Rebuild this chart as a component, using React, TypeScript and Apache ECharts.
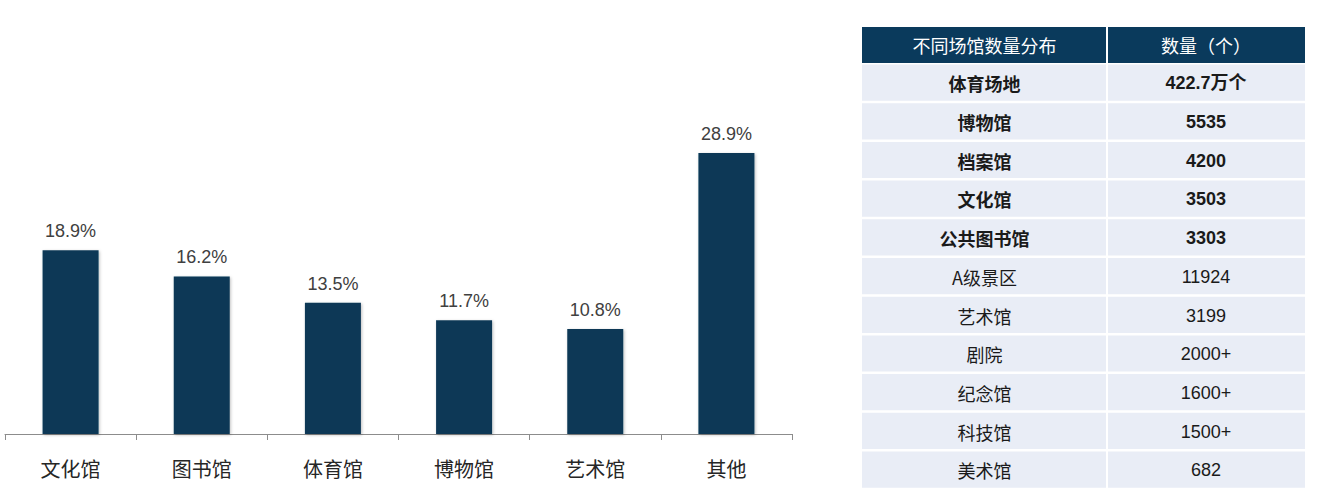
import React, { useEffect, useRef } from "react";
import * as echarts from "echarts";

const categories = ["文化馆", "图书馆", "体育馆", "博物馆", "艺术馆", "其他"];
const shares = [18.9, 16.2, 13.5, 11.7, 10.8, 28.9];

const tableHeader = ["不同场馆数量分布", "数量（个）"];
const venueNames = ["体育场地", "博物馆", "档案馆", "文化馆", "公共图书馆", "A级景区", "艺术馆", "剧院", "纪念馆", "科技馆", "美术馆"];
const venueCounts = ["422.7万个", "5535", "4200", "3503", "3303", "11924", "3199", "2000+", "1600+", "1500+", "682"];
const boldRows = 5;

export default function App() {
  const ref = useRef<HTMLDivElement>(null);
  useEffect(() => {
    if (!ref.current) return;
    const chart = echarts.init(ref.current, null, { renderer: "svg" });

    const tx = 862, tw = 443, splitX = 1107, ty = 27, headH = 36, rowH = 38.7;
    const graphics: any[] = [];
    graphics.push({ type: "rect", shape: { x: tx, y: ty, width: tw, height: headH }, style: { fill: "#0a3a5c" }, z: 5 });
    graphics.push({ type: "rect", shape: { x: splitX - 1, y: ty, width: 2, height: headH }, style: { fill: "#ffffff" }, z: 6 });
    graphics.push({
      type: "text", z: 7,
      style: { text: tableHeader[0], x: (tx + splitX) / 2, y: ty + headH / 2, align: "center", verticalAlign: "middle", fill: "#ffffff", font: "18px 'Noto Sans CJK SC'" },
    });
    graphics.push({
      type: "text", z: 7,
      style: { text: tableHeader[1], x: (splitX + tx + tw) / 2, y: ty + headH / 2, align: "center", verticalAlign: "middle", fill: "#ffffff", font: "18px 'Noto Sans CJK SC'" },
    });
    venueNames.forEach((name, i) => {
      const y = ty + headH + i * rowH;
      graphics.push({ type: "rect", shape: { x: tx, y: y + 1.5, width: splitX - tx - 1, height: rowH - 2.5 }, style: { fill: "#e9edf6" }, z: 5 });
      graphics.push({ type: "rect", shape: { x: splitX + 1, y: y + 1.5, width: tx + tw - splitX - 1, height: rowH - 2.5 }, style: { fill: "#e9edf6" }, z: 5 });
      const weight = i < boldRows ? "bold " : "";
      graphics.push({
        type: "text", z: 7,
        style: { text: name, x: (tx + splitX) / 2, y: y + rowH / 2 + 1, align: "center", verticalAlign: "middle", fill: "#1a1a1a", font: weight + "18px 'Noto Sans CJK SC'" },
      });
      graphics.push({
        type: "text", z: 7,
        style: { text: venueCounts[i], x: (splitX + tx + tw) / 2, y: y + rowH / 2 + 1, align: "center", verticalAlign: "middle", fill: "#1a1a1a", font: weight + "18px 'Liberation Sans', 'Noto Sans CJK SC'" },
      });
    });

    chart.setOption({
      animation: false,
      backgroundColor: "#ffffff",
      grid: { left: 5, right: 531, top: 142.3, bottom: 70 },
      xAxis: {
        type: "category",
        data: categories,
        axisLine: { lineStyle: { color: "#8c8c8c", width: 1 } },
        axisTick: { show: true, alignWithLabel: false, length: 6, lineStyle: { color: "#8c8c8c" } },
        axisLabel: { color: "#262626", fontSize: 20, margin: 24, fontFamily: "Noto Sans CJK SC" },
      },
      yAxis: { type: "value", min: 0, max: 30, show: false, splitLine: { show: false } },
      series: [
        {
          type: "bar",
          data: shares,
          barWidth: 56,
          itemStyle: { color: "#0a3857", shadowColor: "rgba(0,0,0,0.25)", shadowBlur: 3, shadowOffsetX: 1, shadowOffsetY: 1 },
          label: {
            show: true, position: "top", distance: 10, color: "#404040", fontSize: 18,
            fontFamily: "Liberation Sans", formatter: (p: any) => p.value.toFixed(1) + "%",
          },
        },
      ],
      graphic: graphics,
    });
    return () => chart.dispose();
  }, []);
  return <div ref={ref} style={{ position: "fixed", left: 0, top: 0, width: 1323, height: 504 }} />;
}
